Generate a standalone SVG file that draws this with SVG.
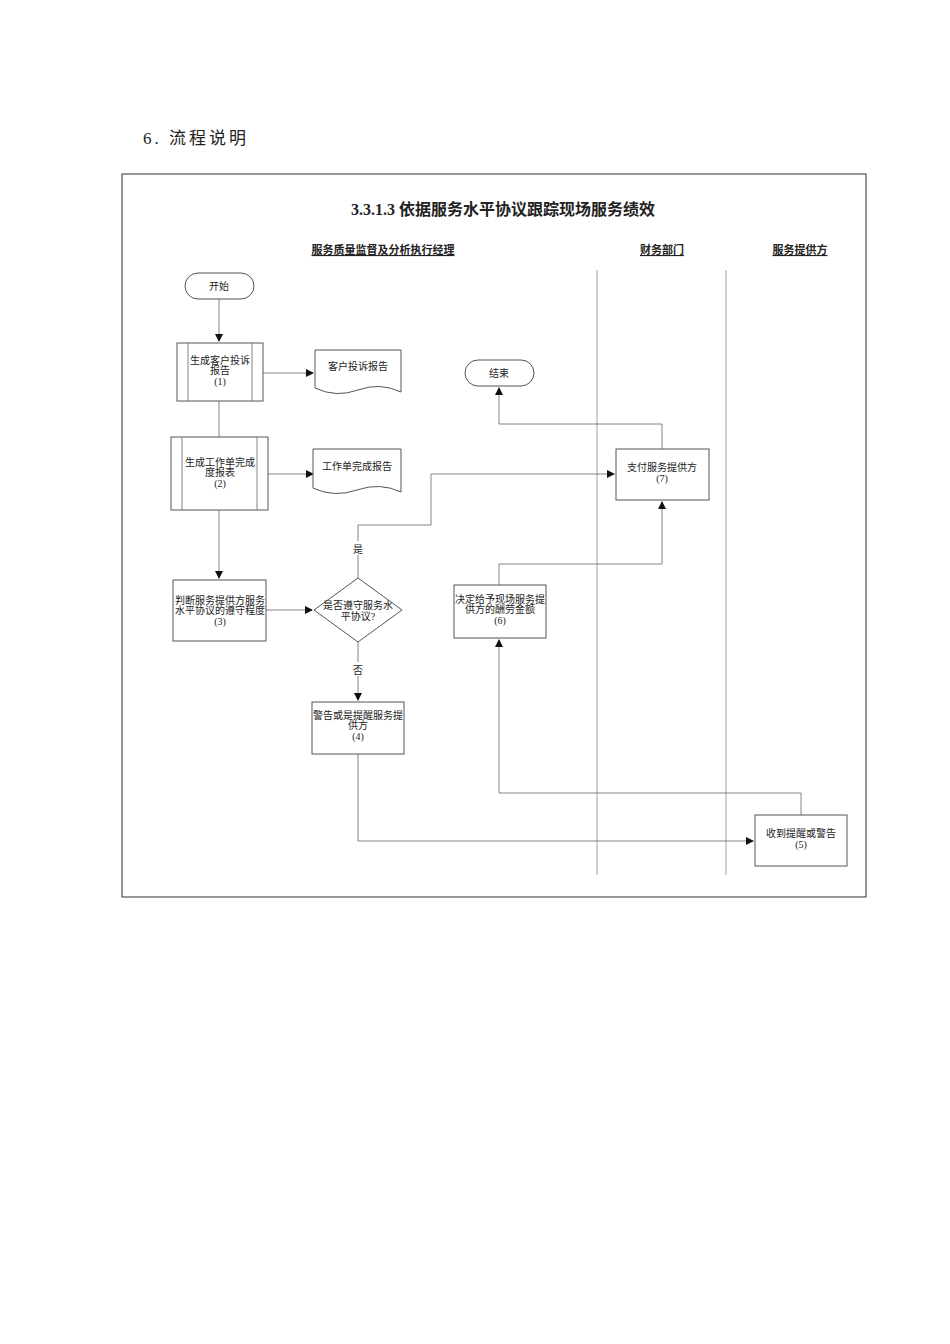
<svg xmlns="http://www.w3.org/2000/svg" width="950" height="1344" viewBox="0 0 950 1344">
<style>
text{font-family:"Liberation Serif","Noto Sans CJK SC",serif;fill:#222;text-anchor:middle}
.t{font-size:10px}
.b{fill:#fff;stroke:#555;stroke-width:1}
.c{fill:none;stroke:#666;stroke-width:0.8}
.lane{stroke:#888;stroke-width:0.8}
.h{font-size:11px;font-weight:bold;text-decoration:underline}
</style>
<defs><marker id="a" markerWidth="8" markerHeight="8" refX="7" refY="4" orient="auto" markerUnits="userSpaceOnUse"><path d="M0,0L8,4L0,8z" fill="#111"/></marker></defs>
<rect width="950" height="1344" fill="#fff"/>
<text x="143" y="144" style="text-anchor:start;font-size:17px;letter-spacing:3px">6. 流程说明</text>
<rect x="122" y="174" width="744" height="723" fill="none" stroke="#333" stroke-width="1"/>
<text x="503" y="215" style="font-size:16px;font-weight:bold">3.3.1.3 依据服务水平协议跟踪现场服务绩效</text>
<text x="383" y="254" class="h">服务质量监督及分析执行经理</text>
<text x="662" y="254" class="h">财务部门</text>
<text x="800" y="254" class="h">服务提供方</text>
<line class="lane" x1="597" y1="270" x2="597" y2="875"/>
<line class="lane" x1="726" y1="270" x2="726" y2="875"/>
<g id="connectors">
<path class="c" d="M219,299V341" marker-end="url(#a)"/>
<path class="c" d="M263,373H313" marker-end="url(#a)"/>
<path class="c" d="M219,401V437"/>
<path class="c" d="M268,474H313" marker-end="url(#a)"/>
<path class="c" d="M219,510V578" marker-end="url(#a)"/>
<path class="c" d="M266,610H312" marker-end="url(#a)"/>
<path class="c" d="M358,578V525H431V474H614" marker-end="url(#a)"/>
<path class="c" d="M662,449V424H499V388" marker-end="url(#a)"/>
<path class="c" d="M358,642V700" marker-end="url(#a)"/>
<path class="c" d="M358,754V841H753" marker-end="url(#a)"/>
<path class="c" d="M801,815V793H499V640" marker-end="url(#a)"/>
<path class="c" d="M499,585V564H662V502" marker-end="url(#a)"/>
<rect x="350" y="541" width="16" height="14" fill="#fff"/><text x="358" y="553" class="t">是</text>
<rect x="350" y="662" width="16" height="14" fill="#fff"/><text x="358" y="674" class="t">否</text>
</g>
<g id="start"><rect class="b" x="185" y="273" width="69" height="26" rx="13"/><text x="219" y="290" class="t">开始</text></g>
<g id="end"><rect class="b" x="465" y="360" width="69" height="26" rx="13"/><text x="499" y="377" class="t">结束</text></g>
<g id="n1"><rect class="b" x="177" y="343" width="86" height="58"/><line class="c" x1="188" y1="343" x2="188" y2="401"/><line class="c" x1="252" y1="343" x2="252" y2="401"/>
<text x="220" y="364" class="t">生成客户投诉</text><text x="220" y="374" class="t">报告</text><text x="220" y="385" class="t">(1)</text></g>
<g id="d1"><path class="b" d="M315,350H401V392Q380,382 358,390T315,388Z"/><text x="358" y="370" class="t">客户投诉报告</text></g>
<g id="n2"><rect class="b" x="171" y="437" width="97" height="73"/><line class="c" x1="182" y1="437" x2="182" y2="510"/><line class="c" x1="257" y1="437" x2="257" y2="510"/>
<text x="220" y="466" class="t">生成工作单完成</text><text x="220" y="476" class="t">度报表</text><text x="220" y="487" class="t">(2)</text></g>
<g id="d2"><path class="b" d="M313,449H401V492Q380,482 357,490T313,488Z"/><text x="357" y="470" class="t">工作单完成报告</text></g>
<g id="n3"><rect class="b" x="173" y="580" width="93" height="61"/>
<text x="220" y="604" class="t">判断服务提供方服务</text><text x="220" y="614" class="t">水平协议的遵守程度</text><text x="220" y="625" class="t">(3)</text></g>
<g id="dec"><path class="b" d="M358,578L402,610L358,642L314,610Z"/><text x="358" y="609" class="t">是否遵守服务水</text><text x="358" y="620" class="t">平协议?</text></g>
<g id="n4"><rect class="b" x="312" y="702" width="92" height="52"/>
<text x="358" y="719" class="t">警告或是提醒服务提</text><text x="358" y="729" class="t">供方</text><text x="358" y="740" class="t">(4)</text></g>
<g id="n5"><rect class="b" x="755" y="815" width="92" height="51"/><text x="801" y="837" class="t">收到提醒或警告</text><text x="801" y="848" class="t">(5)</text></g>
<g id="n6"><rect class="b" x="454" y="585" width="92" height="53"/>
<text x="500" y="603" class="t">决定给予现场服务提</text><text x="500" y="613" class="t">供方的酬劳金额</text><text x="500" y="624" class="t">(6)</text></g>
<g id="n7"><rect class="b" x="616" y="449" width="93" height="51"/><text x="662" y="471" class="t">支付服务提供方</text><text x="662" y="482" class="t">(7)</text></g>
</svg>
